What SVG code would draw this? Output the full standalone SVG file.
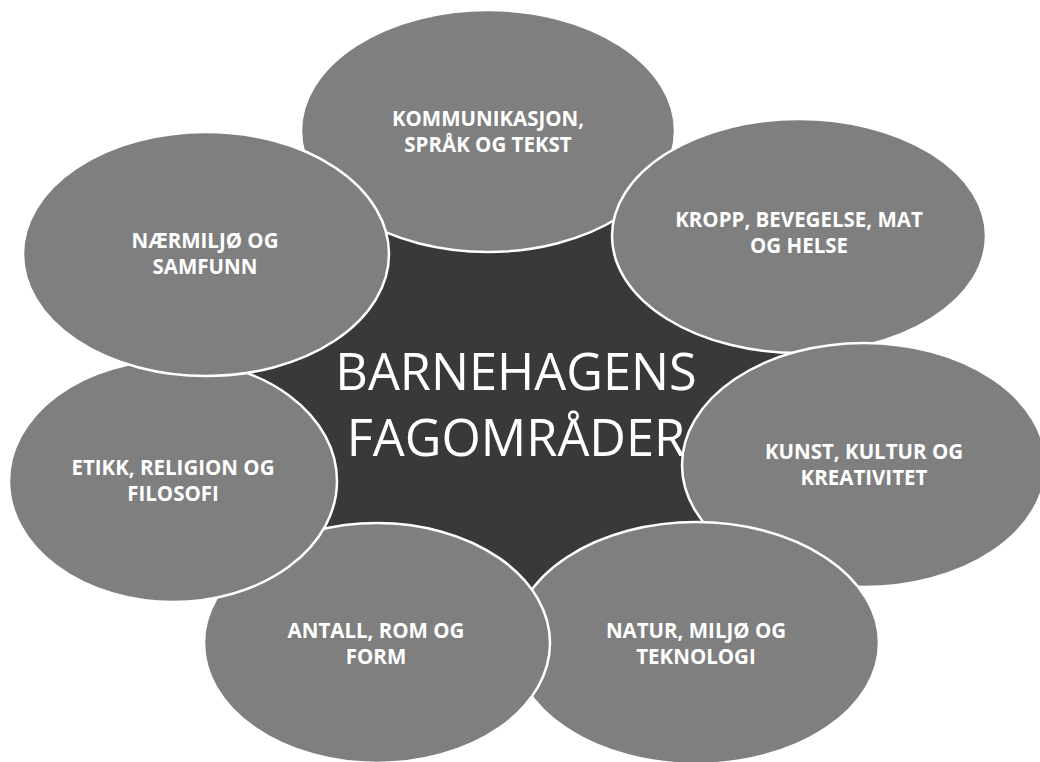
<svg xmlns="http://www.w3.org/2000/svg" width="1040" height="762" viewBox="0 0 1040 762">
<style>
.bg{fill:#ffffff}
.hub{fill:#3b3937}
.sat{fill:#7f7f7f;stroke:#ffffff;stroke-width:2.5}
.lbl{font-family:"Open Sans","Liberation Sans",sans-serif;font-weight:700;font-size:20.5px;fill:#ffffff;text-anchor:middle}
.hubtxt{font-family:"Open Sans","Liberation Sans",sans-serif;font-weight:400;font-size:50.5px;fill:#ffffff;text-anchor:middle}
</style>
<rect class="bg" x="0" y="0" width="1040" height="762"/>
<g id="hub-shape">
<polygon class="hub" points="488,131 799,236 864,465 696,643 377,643 173,481 206,254"/>
</g>
<g id="node-kommunikasjon">
<ellipse class="sat" cx="488" cy="131" rx="187" ry="121"/>
<text class="lbl" x="488" y="126">KOMMUNIKASJON,</text>
<text class="lbl" x="488" y="152">SPRÅK OG TEKST</text>
</g>
<g id="node-kropp">
<ellipse class="sat" cx="799" cy="236" rx="187" ry="117"/>
<text class="lbl" x="799" y="227">KROPP, BEVEGELSE, MAT</text>
<text class="lbl" x="799" y="253">OG HELSE</text>
</g>
<g id="node-kunst">
<ellipse class="sat" cx="864" cy="465" rx="182" ry="122"/>
<text class="lbl" x="864" y="459">KUNST, KULTUR OG</text>
<text class="lbl" x="864" y="485">KREATIVITET</text>
</g>
<g id="node-natur">
<ellipse class="sat" cx="696" cy="643" rx="183" ry="121"/>
<text class="lbl" x="696" y="638">NATUR, MILJØ OG</text>
<text class="lbl" x="696" y="664">TEKNOLOGI</text>
</g>
<g id="node-antall">
<ellipse class="sat" cx="377" cy="643" rx="173" ry="120"/>
<text class="lbl" x="376" y="638">ANTALL, ROM OG</text>
<text class="lbl" x="376" y="664">FORM</text>
</g>
<g id="node-etikk">
<ellipse class="sat" cx="173" cy="481" rx="164" ry="121"/>
<text class="lbl" x="173" y="475">ETIKK, RELIGION OG</text>
<text class="lbl" x="173" y="501">FILOSOFI</text>
</g>
<g id="node-naermiljo">
<ellipse class="sat" cx="206" cy="254" rx="183" ry="122"/>
<text class="lbl" x="205" y="248">NÆRMILJØ OG</text>
<text class="lbl" x="205" y="274">SAMFUNN</text>
</g>
<g id="hub-label">
<text class="hubtxt" x="516" y="390">BARNEHAGENS</text>
<text class="hubtxt" x="516" y="456">FAGOMRÅDER</text>
</g>
</svg>
